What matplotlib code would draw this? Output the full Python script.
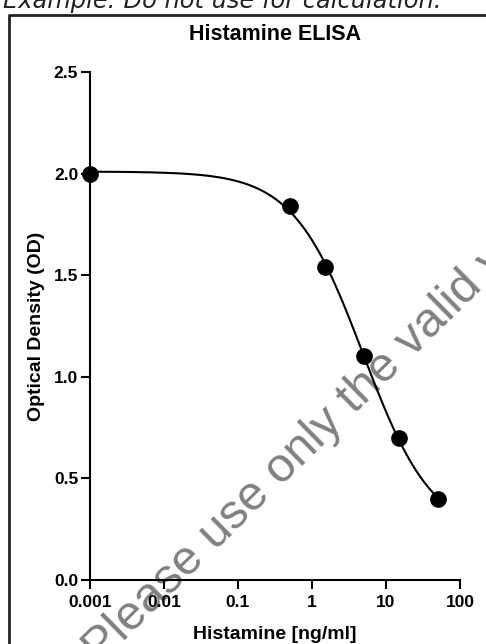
import numpy as np
import matplotlib
matplotlib.use("Agg")
import matplotlib.pyplot as plt
from matplotlib.lines import Line2D

# standards
conc = [0.001, 0.5, 1.5, 5, 15, 50]          # Histamine [ng/ml]
od = [2.00, 1.84, 1.54, 1.10, 0.70, 0.40]    # Optical Density (OD)

x_ticks = [0.001, 0.01, 0.1, 1, 10, 100]
x_ticklabels = ["0.001", "0.01", "0.1", "1", "10", "100"]
y_ticks = [0.0, 0.5, 1.0, 1.5, 2.0, 2.5]
y_ticklabels = ["0.0", "0.5", "1.0", "1.5", "2.0", "2.5"]


def fit_4pl(x, y):
    # grid over EC50 / hill, top and bottom solved linearly
    x = np.asarray(x, float)
    y = np.asarray(y, float)
    logc = np.linspace(-1, 2.5, 351)[:, None, None]
    h = np.linspace(0.3, 3.0, 271)[None, :, None]
    g = 1.0 / (1.0 + (x[None, None, :] / 10 ** logc) ** h)
    a = 1 - g
    saa, sab, sbb = (a * a).sum(-1), (a * g).sum(-1), (g * g).sum(-1)
    say, sby = (a * y).sum(-1), (g * y).sum(-1)
    det = saa * sbb - sab ** 2
    bottom = (sbb * say - sab * sby) / det
    top = (saa * sby - sab * say) / det
    pred = bottom[..., None] * a + top[..., None] * g
    sse = ((pred - y) ** 2).sum(-1)
    i, j = np.unravel_index(np.argmin(sse), sse.shape)
    return bottom[i, j], top[i, j], 10 ** logc[i, 0, 0], h[0, j, 0]


bottom, top, ec50, hill = fit_4pl(conc, od)
xs = np.logspace(np.log10(conc[0]), np.log10(conc[-1]), 300)
ys = bottom + (top - bottom) / (1 + (xs / ec50) ** hill)

plt.rcParams["font.family"] = ["Liberation Sans", "DejaVu Sans"]

fig = plt.figure(figsize=(4.86, 6.44), dpi=100)
ax = fig.add_axes([90 / 486, 64 / 644, 370 / 486, 508 / 644])
ax.patch.set_visible(False)

ax.plot(xs, ys, color="black", lw=1.5, zorder=3)
ax.plot(conc, od, "o", color="black", ms=11, clip_on=False, zorder=4)

ax.set_xscale("log")
ax.set_xlim(0.001, 100)
ax.set_ylim(0, 2.5)
ax.set_xticks(x_ticks)
ax.set_xticklabels(x_ticklabels)
ax.set_yticks(y_ticks)
ax.set_yticklabels(y_ticklabels)
ax.minorticks_off()

for s in ["top", "right"]:
    ax.spines[s].set_visible(False)
for s in ["left", "bottom"]:
    ax.spines[s].set_linewidth(1.5)
ax.tick_params(axis="both", direction="out", length=6.5, width=1.5,
               labelsize=12.5)
ax.tick_params(axis="y", pad=2)
ax.tick_params(axis="x", pad=4)
for lab in ax.get_xticklabels() + ax.get_yticklabels():
    lab.set_fontweight("bold")

ax.set_title("Histamine ELISA", fontsize=15.5, fontweight="bold", pad=23)
ax.set_xlabel("Histamine [ng/ml]", fontsize=14, fontweight="bold", labelpad=12)
ax.set_ylabel("Optical Density (OD)", fontsize=14, fontweight="bold",
              labelpad=6)

# frame around the figure (only left and top visible)
fig.add_artist(Line2D([9 / 486, 9 / 486, 1.01], [-0.01, 629 / 644, 629 / 644],
                      transform=fig.transFigure, color="#222222", lw=2))

fig.text(3 / 486, 636 / 644, "Example: Do not use for calculation.",
         family="DejaVu Sans", style="italic", fontsize=17.4, color="#222222",
         ha="left", va="baseline")

# watermark
fig.text(100 / 486, -21 / 644,
         "Please use only the valid version of the package insert",
         rotation=44.5, rotation_mode="anchor", ha="left", va="baseline",
         fontsize=35, color="#808080", zorder=-1)

fig.savefig("out.png", dpi=100)
